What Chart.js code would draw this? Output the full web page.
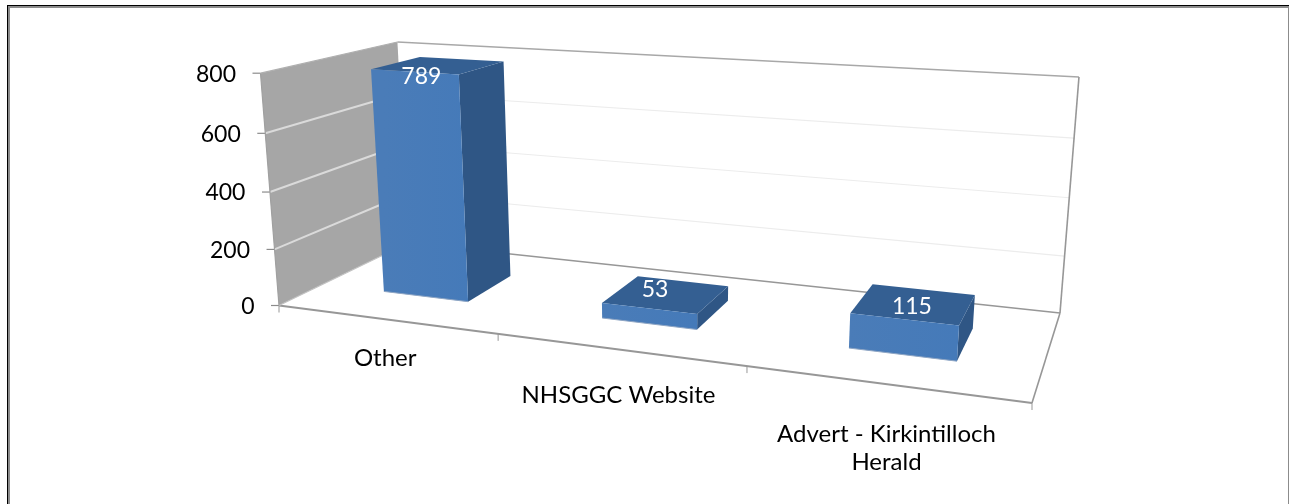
<!DOCTYPE html>
<html>
<head>
<meta charset="utf-8">
<title>Chart</title>
<script src="https://cdn.jsdelivr.net/npm/chart.js@4/dist/chart.umd.min.js"></script>
<style>
  html, body { margin: 0; padding: 0; background: #fff; }
  #wrap { position: relative; width: 1289px; height: 504px; overflow: hidden; }
  #frame { position: absolute; left: 7px; top: 5px; width: 1282px; height: 499px; box-sizing: border-box;
           border-top: 1.5px solid #000; border-left: 1.5px solid #000; }
  #frame2 { position: absolute; left: 8px; top: 6px; width: 1281px; height: 498px; box-sizing: border-box;
            border-top: 2px solid #8c8c8c; border-left: 2px solid #8c8c8c; border-right: 1px solid #8c8c8c; }
</style>
</head>
<body>
<div id="wrap">
  <div id="frame2"></div>
  <div id="frame"></div>
  <canvas id="chart" width="1289" height="504" style="position:absolute;left:0;top:0"></canvas>
</div>
<script>
const categories = ["Other", "NHSGGC Website", ["Advert - Kirkintilloch", "Herald"]];
const values = [789, 53, 115];
const yTicks = [0, 200, 400, 600, 800];

// floor of the 3d box as seen on screen: front-left, front-right, back-right, back-left
const floorQuad = [[279, 305.5], [1032, 403], [1060, 313], [408, 243]];
// upright edges all run towards this point, lift is the strength of that perspective
const upVanish = [668, 5190];
const lift = -0.0454;
const depthRange = [0.31, 0.69];
const labelNudge = [[7, 5], [6, -19], [8, -13]];
const categoryDrop = [39, 46, 50];

function quadMap(p) {
  const [x0, y0] = p[0], [x1, y1] = p[1], [x2, y2] = p[2], [x3, y3] = p[3];
  const dx1 = x1 - x2, dx2 = x3 - x2, dx3 = x0 - x1 + x2 - x3;
  const dy1 = y1 - y2, dy2 = y3 - y2, dy3 = y0 - y1 + y2 - y3;
  const det = dx1 * dy2 - dx2 * dy1;
  const g = (dx3 * dy2 - dx2 * dy3) / det, h = (dx1 * dy3 - dx3 * dy1) / det;
  const a = x1 - x0 + g * x1, b = x3 - x0 + h * x3;
  const d = y1 - y0 + g * y1, e = y3 - y0 + h * y3;
  return (u, w) => {
    const q = g * u + h * w + 1;
    return [(a * u + b * w + x0) / q, (d * u + e * w + y0) / q, q];
  };
}
const onFloor = quadMap(floorQuad);

// u across the categories, w into the depth, v up the value axis (all 0..1)
function project(u, w, v) {
  const [fx, fy, q] = onFloor(u, w);
  const s = lift * v / (q + lift * v);
  return [fx + (upVanish[0] - fx) * s, fy + (upVanish[1] - fy) * s];
}

function poly(ctx, pts, fill) {
  ctx.beginPath();
  pts.forEach((p, i) => i ? ctx.lineTo(p[0], p[1]) : ctx.moveTo(p[0], p[1]));
  ctx.closePath();
  ctx.fillStyle = fill;
  ctx.fill();
}
function seg(ctx, a, b, color, width) {
  ctx.beginPath();
  ctx.moveTo(a[0], a[1]);
  ctx.lineTo(b[0], b[1]);
  ctx.strokeStyle = color;
  ctx.lineWidth = width;
  ctx.stroke();
}

const box3d = {
  id: "box3d",
  beforeDatasetsDraw(chart) {
    const ctx = chart.ctx, y = chart.scales.y;
    const frac = val => (y.bottom - y.getPixelForValue(val)) / (y.bottom - y.top);
    ctx.save();
    poly(ctx, [project(0, 0, 0), project(0, 1, 0), project(0, 1, 1), project(0, 0, 1)], "#a6a6a6");
    yTicks.forEach(t => {
      const v = frac(t);
      if (t > 0 && t < 800) {
        seg(ctx, project(0, 0, v), project(0, 1, v), "#dadada", 2);
        seg(ctx, project(0, 1, v), project(1, 1, v), "#ececec", 1.2);
      }
      const p = project(0, 0, v);
      seg(ctx, [p[0] - 8, p[1]], p, "#8c8c8c", 1.2);
    });
    // value labels step along the leaning front edge of the wall
    ctx.fillStyle = "#000";
    ctx.font = "23px Lato";
    ctx.textAlign = "right";
    ctx.textBaseline = "middle";
    y.ticks.forEach(tick => {
      const p = project(0, 0, frac(tick.value));
      ctx.fillText(tick.label, p[0] - 24.5, p[1] + 1);
    });
    const line = "#979797";
    seg(ctx, project(0, 0, 1), project(0, 1, 1), "#b0b0b0", 1.2);
    seg(ctx, project(0, 0, 1), project(0, 0, 0), "#a0a0a0", 1.2);
    seg(ctx, project(0, 1, 1), project(1, 1, 1), "#a8a8a8", 1.6);
    seg(ctx, project(1, 1, 1), project(1, 1, 0), line, 1.6);
    seg(ctx, project(0, 1, 0), project(1, 1, 0), line, 1.6);
    seg(ctx, project(1, 1, 0), project(1, 0, 0), line, 1.6);
    seg(ctx, project(0, 0, 0), project(1, 0, 0), line, 1.8);
    seg(ctx, project(0, 0, 0), project(0, 1, 0), "#c4c4c4", 1.2);
    // category ticks hang off the front floor edge
    for (let i = 0; i <= categories.length; i++) {
      const p = project(i / categories.length, 0, 0);
      seg(ctx, p, [p[0], p[1] + 7], line, 1);
    }
    ctx.restore();
  },
  afterDatasetsDraw(chart) {
    const ctx = chart.ctx, area = chart.chartArea, y = chart.scales.y;
    const bars = chart.getDatasetMeta(0).data;
    ctx.save();
    bars.forEach((bar, i) => {
      const u0 = (bar.x - bar.width / 2 - area.left) / area.width;
      const u1 = (bar.x + bar.width / 2 - area.left) / area.width;
      const v = (y.bottom - bar.y) / (y.bottom - y.top);
      const [w0, w1] = depthRange;
      const fbl = project(u0, w0, 0), fbr = project(u1, w0, 0);
      const ftl = project(u0, w0, v), ftr = project(u1, w0, v);
      const bbr = project(u1, w1, 0), btr = project(u1, w1, v), btl = project(u0, w1, v);
      poly(ctx, [fbr, bbr, btr, ftr], "#2f5685");
      poly(ctx, [ftl, ftr, btr, btl], "#345f92");
      const grad = ctx.createLinearGradient(fbl[0], 0, fbr[0], 0);
      grad.addColorStop(0, "#4a7cb8");
      grad.addColorStop(1, "#457ab9");
      poly(ctx, [fbl, fbr, ftr, ftl], grad);
      seg(ctx, fbl, fbr, "#8fa6c4", 1);

      const c = project((u0 + u1) / 2, w0, v);
      ctx.fillStyle = "#fff";
      ctx.font = "23px Lato";
      ctx.textAlign = "center";
      ctx.textBaseline = "middle";
      ctx.fillText(String(values[i]), c[0] + labelNudge[i][0], c[1] + labelNudge[i][1]);
    });
    // category names sit below the slanted front edge
    ctx.fillStyle = "#000";
    ctx.font = "24px Lato";
    ctx.textAlign = "center";
    ctx.textBaseline = "middle";
    chart.data.labels.forEach((label, i) => {
      const p = project((i + 0.5) / categories.length, 0, 0);
      [].concat(label).forEach((txt, n) => {
        ctx.fillText(txt, p[0] + (i === 2 ? 2 : 0), p[1] + categoryDrop[i] + n * 28);
      });
    });
    ctx.restore();
  }
};

new Chart(document.getElementById("chart"), {
  type: "bar",
  data: {
    labels: categories,
    datasets: [{
      data: values,
      backgroundColor: "rgba(0,0,0,0)",
      categoryPercentage: 0.4,
      barPercentage: 1
    }]
  },
  options: {
    responsive: false,
    animation: false,
    layout: { padding: { left: 200, top: 74, bottom: 198, right: 249 } },
    plugins: { legend: { display: false }, tooltip: { enabled: false } },
    scales: {
      x: { display: false },
      y: {
        min: 0,
        max: 800,
        afterFit(scale) { scale.width = 58; },
        grid: { display: false },
        border: { display: false },
        ticks: { stepSize: 200, display: false }
      }
    }
  },
  plugins: [box3d]
});
</script>
</body>
</html>
